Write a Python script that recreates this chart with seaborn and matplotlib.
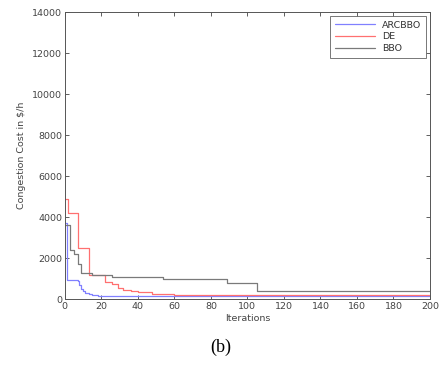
import pandas as pd
import matplotlib
matplotlib.use("Agg")
import matplotlib.pyplot as plt
import seaborn as sns

# step breakpoints (iteration, cost)
arcbbo_iter = [0, 1, 7, 8, 9, 10, 11, 13, 15, 18, 25, 75, 200]
arcbbo_cost = [3700, 950, 900, 700, 500, 380, 300, 240, 200, 170, 150, 140, 140]

de_iter = [0, 2, 7, 13, 22, 26, 29, 32, 36, 40, 48, 60, 200]
de_cost = [4900, 4200, 2500, 1150, 850, 720, 560, 450, 380, 320, 250, 220, 220]

bbo_iter = [0, 3, 5, 7, 9, 15, 26, 54, 89, 105, 200]
bbo_cost = [3600, 2400, 2200, 1700, 1250, 1180, 1090, 975, 765, 400, 400]

series_names = ["ARCBBO", "DE", "BBO"]
series_colors = ["#8080ff", "#ff7070", "#7a7a7a"]


def build_frame():
    parts = []
    for name, xs, ys in zip(series_names,
                            [arcbbo_iter, de_iter, bbo_iter],
                            [arcbbo_cost, de_cost, bbo_cost]):
        parts.append(pd.DataFrame({"Iterations": xs, "Cost": ys, "Algorithm": name}))
    return pd.concat(parts, ignore_index=True)


def main():
    sns.set_style("ticks")
    plt.rcParams["font.family"] = ["DejaVu Sans"]
    df = build_frame()

    fig = plt.figure(figsize=(4.41, 3.66), dpi=100)
    ax = fig.add_axes([0.147, 0.183, 0.828, 0.784])

    sns.lineplot(data=df, x="Iterations", y="Cost", hue="Algorithm",
                 hue_order=series_names, palette=series_colors,
                 estimator=None, sort=False, drawstyle="steps-post",
                 linewidth=0.9, ax=ax)

    ax.set_xlim(0, 200)
    ax.set_ylim(0, 14000)
    ax.set_xticks(range(0, 201, 20))
    ax.set_yticks(range(0, 14001, 2000))
    ax.tick_params(direction="in", top=True, right=True, length=3,
                   width=0.6, labelsize=6.8, colors="#444444", pad=2)
    for s in ax.spines.values():
        s.set_visible(True)
        s.set_linewidth(0.7)
        s.set_color("#555555")
    ax.set_xlabel("Iterations", fontsize=6.8, color="#444444", labelpad=2)
    ax.set_ylabel("Congestion Cost in $/h", fontsize=6.8, color="#444444", labelpad=4)

    leg = ax.legend(loc="upper right", fontsize=6.8, frameon=True, fancybox=False,
                    handlelength=4.2, borderpad=0.5, labelspacing=0.3,
                    borderaxespad=0.4)
    leg.get_frame().set_edgecolor("#555555")
    leg.get_frame().set_linewidth(0.7)
    for t in leg.get_texts():
        t.set_color("#333333")

    fig.text(0.5, 0.05, "(b)", ha="center", va="center", fontsize=13,
             family="Liberation Serif", color="black")

    fig.savefig("out.png", dpi=100)
    plt.close(fig)


if __name__ == "__main__":
    main()
